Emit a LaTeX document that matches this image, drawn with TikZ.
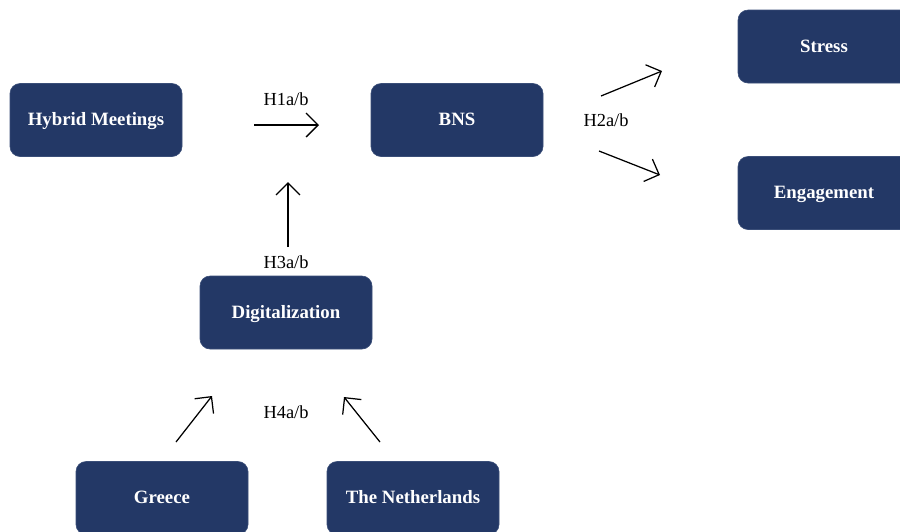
\documentclass[tikz,border=0pt]{standalone}
\usepackage{fontspec}
\setmainfont{Liberation Serif}
\usetikzlibrary{arrows.meta}
\definecolor{navy}{HTML}{233866}
\definecolor{navyedge}{HTML}{3A4E78}
\tikzset{
  box/.style={draw=navyedge, line width=0.6pt, fill=navy, rounded corners=10pt,
    minimum width=172pt, minimum height=73pt, text=white,
    font=\fontsize{18.8}{22}\selectfont\bfseries, inner sep=0pt,
    text height=11pt, text depth=0pt},
  hlabel/.style={font=\fontsize{18.4}{22}\selectfont, inner sep=0pt,
    text height=12.2pt, text depth=0pt},
  harrow/.style={line width=1.25pt, -{Straight Barb[length=12pt,width=24pt,line width=1.25pt]}}
}
\begin{document}
\begin{tikzpicture}[x=1pt,y=-1pt]
\useasboundingbox (0,0) rectangle (900,531);
\clip (0,0) rectangle (900,531);
\fill[white] (0,0) rectangle (900,531);
% boxes
\node[box] (hm) at (96,120) {Hybrid Meetings};
\node[box] (bns) at (457,120) {BNS};
\node[box] (stress) at (824,46.5) {Stress};
\node[box] (eng) at (824,193) {Engagement};
\node[box] (dig) at (286,312.5) {Digitalization};
\node[box] (gr) at (162,498) {Greece};
\node[box] (nl) at (413,498) {The Netherlands};
% labels
\node[hlabel] (l1) at (286,99) {H1a/b};
\node[hlabel] (l2) at (606,120) {H2a/b};
\node[hlabel] (l3) at (286,262) {H3a/b};
\node[hlabel] (l4) at (286,412) {H4a/b};
% arrow end points
\coordinate (a1s) at (254,125);
\coordinate (a1e) at (319,125);
\coordinate (a2s) at (601,96);
\coordinate (a2e) at (662,71);
\coordinate (a3s) at (599,151);
\coordinate (a3e) at (660,175);
\coordinate (a4s) at (288,247);
\coordinate (a4e) at (288,182);
\coordinate (a5s) at (176,442);
\coordinate (a5e) at (212,396);
\coordinate (a6s) at (380,442);
\coordinate (a6e) at (344,397);
\draw[harrow] (a1s) -- (a1e);
\draw[harrow] (a2s) -- (a2e);
\draw[harrow] (a3s) -- (a3e);
\draw[harrow] (a4s) -- (a4e);
\draw[harrow] (a5s) -- (a5e);
\draw[harrow] (a6s) -- (a6e);
\end{tikzpicture}
\end{document}
